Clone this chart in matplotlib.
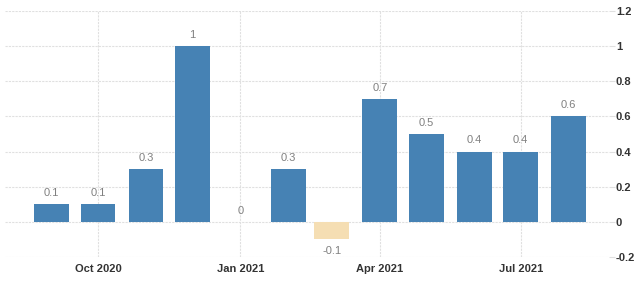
import matplotlib.pyplot as plt
import pandas as pd

plt.rcParams['font.family'] = ['Liberation Sans', 'DejaVu Sans']

# monthly change, Sep 2020 - Aug 2021
months = pd.date_range("2020-09-01", "2021-08-01", freq="MS")
values = [0.1, 0.1, 0.3, 1.0, 0.0, 0.3, -0.1, 0.7, 0.5, 0.4, 0.4, 0.6]
labels = ["0.1", "0.1", "0.3", "1", "0", "0.3", "-0.1", "0.7", "0.5", "0.4", "0.4", "0.6"]
yticks = [-0.2, 0, 0.2, 0.4, 0.6, 0.8, 1, 1.2]
ytick_labels = ["-0.2", "0", "0.2", "0.4", "0.6", "0.8", "1", "1.2"]
xticks = pd.to_datetime(["2020-10-01", "2021-01-01", "2021-04-01", "2021-07-01"])
xtick_labels = ["Oct 2020", "Jan 2021", "Apr 2021", "Jul 2021"]

blue = "#4682b4"
tan = "#f5deb3"

fig = plt.figure(figsize=(6.4, 2.81), dpi=100)
ax = fig.add_axes([5 / 640, 1 - 257 / 281, 604 / 640, 246 / 281])

colors = [blue if v >= 0 else tan for v in values]
ax.bar(months, values, width=22.5, color=colors, zorder=2)

for d, v, s in zip(months, values, labels):
    if v < 0:
        ax.text(d, v - 0.035, s, ha="center", va="top", fontsize=8, color="#808080")
    else:
        ax.text(d, v + 0.035, s, ha="center", va="bottom", fontsize=8, color="#808080")

ax.set_ylim(-0.2, 1.2)
ax.set_xlim(pd.Timestamp("2020-08-02"), pd.Timestamp("2021-08-27"))
ax.set_yticks(yticks)
ax.set_yticklabels(ytick_labels)
ax.set_xticks(xticks)
ax.set_xticklabels(xtick_labels)
ax.yaxis.tick_right()

ax.grid(True, color="#e0e0e0", linestyle=(0, (2, 1)), linewidth=0.8, zorder=0)
for sp in ax.spines.values():
    sp.set_visible(False)
ax.tick_params(axis="y", length=4, color="#e0e0e0", labelsize=8, labelcolor="#333333", pad=1)
ax.tick_params(axis="x", length=0, labelsize=8, labelcolor="#333333", pad=5)
for t in ax.get_xticklabels() + ax.get_yticklabels():
    t.set_fontweight("bold")

fig.savefig("out.png", dpi=100)
